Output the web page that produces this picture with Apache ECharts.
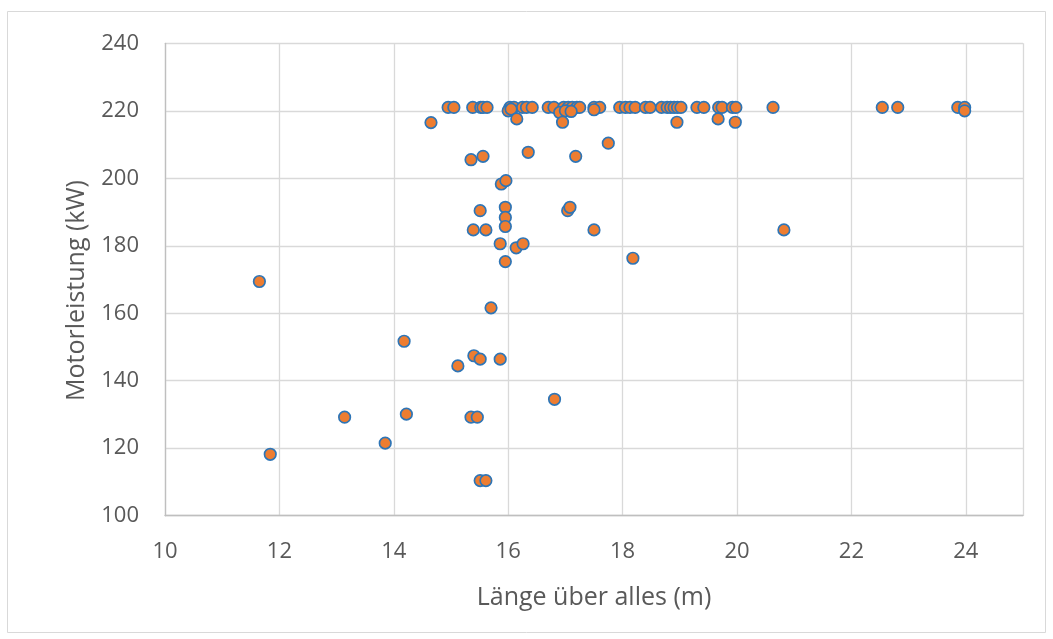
<!DOCTYPE html>
<html><head><meta charset="utf-8">
<script src="https://cdn.jsdelivr.net/npm/echarts@6/dist/echarts.min.js"></script>
<style>html,body{margin:0;padding:0;background:#fff}#c{width:1053px;height:639px}</style>
</head><body><div id="c"></div>
<script>
// Länge über alles (m)
const laenge = [
  14.95, 15.05, 15.38, 15.52, 15.56, 15.63, 16.03, 16.10, 16.25, 16.32, 16.42, 16.70, 16.80, 16.97, 17.05, 17.12, 17.20, 17.25, 17.50, 17.60,
  17.95, 18.05, 18.13, 18.22, 18.40, 18.48, 18.68, 18.78, 18.84, 18.90, 18.96, 19.02, 19.30, 19.42, 19.68, 19.74, 19.92, 19.98, 20.63, 22.54,
  22.81, 23.86, 23.98,
  16.00, 16.05, 16.90, 17.00, 17.10, 17.50, 23.98,
  14.65, 16.15, 16.95, 18.95, 19.67, 19.97,
  15.35, 15.56, 16.35, 17.18, 17.75, 15.88, 15.96,
  15.51, 15.95, 15.95, 15.95, 15.39, 15.61, 15.86, 16.14, 16.26, 15.95, 17.04, 17.08, 17.50, 18.18, 20.82, 15.70,
  11.65, 14.18, 15.40, 15.51, 15.12, 15.86, 16.81, 13.14, 14.22, 15.35, 15.46, 13.85, 11.84, 15.51, 15.61
];
// Motorleistung (kW)
const leistung = [
  221, 221, 221, 221, 221, 221, 221, 221, 221, 221, 221, 221, 221, 221, 221, 221, 221, 221, 221, 221,
  221, 221, 221, 221, 221, 221, 221, 221, 221, 221, 221, 221, 221, 221, 221, 221, 221, 221, 221, 221,
  221, 221, 221,
  220, 220.5, 219.5, 220, 219.8, 220.3, 220,
  216.5, 217.6, 216.6, 216.6, 217.6, 216.6,
  205.5, 206.5, 207.7, 206.5, 210.4, 198.3, 199.3,
  190.4, 191.4, 188.4, 185.7, 184.7, 184.7, 180.6, 179.4, 180.6, 175.3, 190.4, 191.4, 184.7, 176.3, 184.7, 161.6,
  169.4, 151.7, 147.4, 146.4, 144.4, 146.4, 134.5, 129.2, 130.1, 129.2, 129.2, 121.5, 118.2, 110.4, 110.4
];
const xTitle = 'Länge über alles (m)';
const yTitle = 'Motorleistung (kW)';

const points = laenge.map((x, i) => [x, leistung[i]]);
const font = '"Open Sans", "Noto Sans", sans-serif';
const chart = echarts.init(document.getElementById('c'), null, {renderer: 'canvas'});
chart.setOption({
  animation: false,
  backgroundColor: '#ffffff',
  graphic: [{
    type: 'rect', shape: {x: 7.5, y: 11.5, width: 1038, height: 621},
    style: {fill: 'none', stroke: '#D9D9D9', lineWidth: 1}, silent: true, z: -1
  }],
  grid: {left: 165, top: 43.3, width: 858, height: 472.4, containLabel: false},
  xAxis: {
    type: 'value', min: 10, max: 25, interval: 2,
    name: xTitle, nameLocation: 'middle', nameGap: 70,
    nameTextStyle: {fontFamily: font, fontSize: 25, color: '#595959'},
    axisLine: {show: true, lineStyle: {color: '#BFBFBF', width: 1.3}},
    axisTick: {show: false},
    axisLabel: {fontFamily: font, fontSize: 22, color: '#595959', margin: 25,
      formatter: v => (v % 2 === 0 ? String(v) : '')},
    splitLine: {show: true, lineStyle: {color: '#D9D9D9', width: 1.3}}
  },
  yAxis: {
    type: 'value', min: 100, max: 240, interval: 20,
    name: yTitle, nameLocation: 'middle', nameGap: 76, nameRotate: 90,
    nameTextStyle: {fontFamily: font, fontSize: 25, color: '#595959', padding: [0, 22, 0, 0]},
    axisLine: {show: true, lineStyle: {color: '#BFBFBF', width: 1.3}},
    axisTick: {show: false},
    axisLabel: {fontFamily: font, fontSize: 22, color: '#595959', margin: 26},
    splitLine: {show: true, lineStyle: {color: '#D9D9D9', width: 1.3}}
  },
  series: [{
    type: 'scatter', data: points, symbol: 'circle', symbolSize: 11.5,
    itemStyle: {color: '#ED7D31', borderColor: '#2E75B6', borderWidth: 1.7, opacity: 1}
  }]
});
</script></body></html>
